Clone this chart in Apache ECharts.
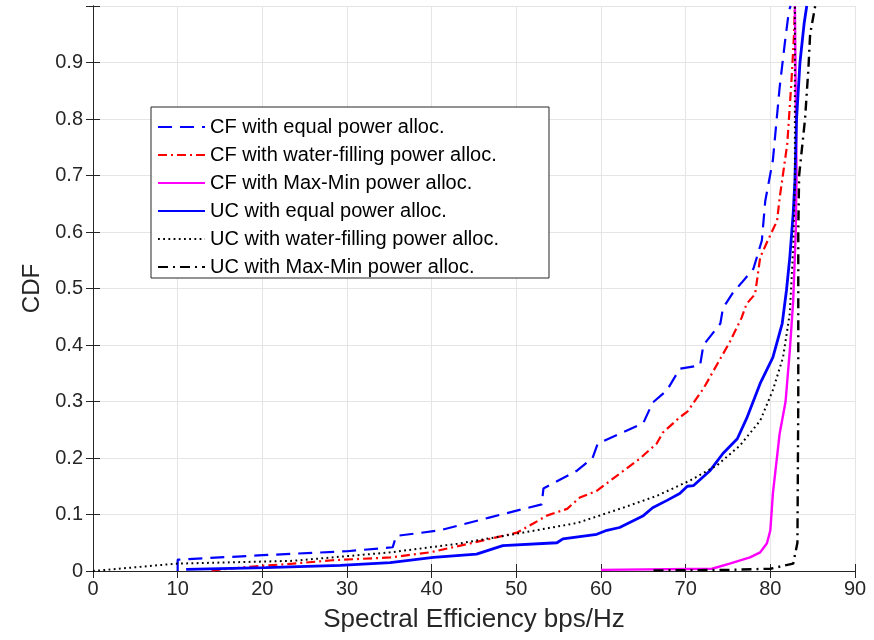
<!DOCTYPE html>
<html>
<head>
<meta charset="utf-8">
<script src="https://cdn.jsdelivr.net/npm/echarts@6/dist/echarts.min.js"></script>
<style>
  html, body { margin: 0; padding: 0; background: #fff; }
  #chart { width: 874px; height: 640px; }
</style>
</head>
<body>
<div id="chart"></div>
<script>
// Empirical CDFs of per-scheme spectral efficiency: [bps/Hz, CDF]
const cfEqual = [
  [10, 0], [10, 0.02], [20, 0.028], [30, 0.035], [35.4, 0.042], [35.8, 0.062],
  [41, 0.072], [46.9, 0.095], [53, 0.118], [53.2, 0.146], [57.2, 0.178], [59, 0.2],
  [59.6, 0.225], [65, 0.262], [66.1, 0.298], [67.8, 0.32], [69.3, 0.358],
  [71.7, 0.364], [72.1, 0.4], [74.1, 0.438], [74.4, 0.465], [75.6, 0.493],
  [76.6, 0.51], [78.0, 0.535], [79.0, 0.585], [79.4, 0.655], [80.3, 0.727],
  [81.1, 0.856], [81.7, 0.933], [82.2, 0.992], [82.4, 1]
];
const cfWaterFill = [
  [14, 0.001], [18.9, 0.008], [23.6, 0.013], [28.3, 0.019], [35.1, 0.024],
  [39.8, 0.033], [44.9, 0.05], [50.1, 0.068], [52, 0.084], [53.6, 0.098],
  [56, 0.11], [57.5, 0.13], [59.5, 0.142], [61.9, 0.169], [64.6, 0.199],
  [66.6, 0.226], [67.3, 0.245], [69.3, 0.272], [70.2, 0.282], [72.1, 0.323],
  [75.2, 0.405], [76.6, 0.448], [77.2, 0.473], [78.2, 0.49], [78.8, 0.555],
  [79.7, 0.585], [80.8, 0.62], [81.1, 0.66], [82, 0.756], [82.5, 0.868],
  [82.8, 0.95], [82.9, 1]
];
const cfMaxMin = [
  [60, 0.002], [73.1, 0.004], [75.2, 0.013], [77.6, 0.024], [78.8, 0.033],
  [79.6, 0.049], [80, 0.072], [80.3, 0.137], [81.1, 0.243], [81.8, 0.3],
  [82.3, 0.39], [82.7, 0.478], [83.0, 0.6], [83.1, 0.7], [83.0, 0.85], [82.9, 1]
];
const ucEqual = [
  [11, 0.003], [20.4, 0.006], [29.2, 0.01], [35.1, 0.015], [40.2, 0.024],
  [45.3, 0.03], [48.4, 0.045], [54.8, 0.05], [55.5, 0.057], [59.5, 0.065],
  [60.7, 0.072], [62.2, 0.077], [65, 0.098], [66.1, 0.112], [67.8, 0.125],
  [69.3, 0.137], [70.2, 0.15], [70.9, 0.151], [72.9, 0.178], [74.4, 0.208],
  [76.1, 0.234], [77.2, 0.27], [78.8, 0.332], [80.3, 0.378], [81.4, 0.438],
  [81.9, 0.496], [82.3, 0.555], [82.7, 0.633], [82.9, 0.69], [83.1, 0.8],
  [83.5, 0.9], [84.0, 0.97], [84.3, 1]
];
const ucWaterFill = [
  [0, 0], [9.8, 0.013], [23.6, 0.018], [35.1, 0.033], [43, 0.048],
  [50.8, 0.068], [57.2, 0.085], [62.6, 0.112], [66.6, 0.133], [70.5, 0.16],
  [73.7, 0.187], [76.4, 0.222], [78.8, 0.266], [80.3, 0.32], [81.5, 0.378],
  [82.3, 0.456], [82.7, 0.573], [82.9, 0.69], [82.9, 1]
];
const ucMaxMin = [
  [66.2, 0.001], [75, 0.002], [80, 0.004], [82.7, 0.013], [83.2, 0.05],
  [83.3, 0.3], [83.3, 0.6], [83.4, 0.7], [84.1, 0.8], [84.5, 0.89],
  [84.7, 0.95], [85.3, 1]
];

const seriesNames = [
  'CF with equal power alloc.',
  'CF with water-filling power alloc.',
  'CF with Max-Min power alloc.',
  'UC with equal power alloc.',
  'UC with water-filling power alloc.',
  'UC with Max-Min power alloc.'
];
const xTicks = [0, 10, 20, 30, 40, 50, 60, 70, 80, 90];

const ink = '#262626';
const font = 'Liberation Sans, Arial, Helvetica, sans-serif';

function curve(name, data, color, width, dash) {
  return {
    name, type: 'line', data, showSymbol: false, symbol: 'none',
    animation: false, silent: true,
    lineStyle: { color, width, type: dash, cap: 'butt' },
    itemStyle: { color }
  };
}

const chart = echarts.init(document.getElementById('chart'), null, { renderer: 'canvas' });

// Box outline: top and right axes carry only inward ticks
const sideAxis = {
  axisLine: { show: true, lineStyle: { color: ink, width: 1 } },
  axisTick: { show: true, inside: true, length: 7, lineStyle: { color: ink } },
  axisLabel: { show: false },
  splitLine: { show: false }
};

chart.setOption({
  backgroundColor: '#fff',
  animation: false,
  grid: { left: 93, right: 19, top: 6, bottom: 69, containLabel: false },
  legend: {
    orient: 'vertical',
    left: 151, top: 107,
    data: seriesNames,
    backgroundColor: '#fff',
    borderColor: ink, borderWidth: 1,
    padding: [10, 50, 1, 6],
    itemWidth: 47, itemHeight: 17, itemGap: 8,
    itemStyle: { opacity: 0, color: 'rgba(0,0,0,0)', borderWidth: 0 },
    textStyle: { fontFamily: font, fontSize: 20, color: '#000' },
    selectedMode: false
  },
  xAxis: [{
    type: 'value', min: 0, max: 90, interval: 10,
    name: 'Spectral Efficiency bps/Hz', nameLocation: 'middle', nameGap: 36,
    nameTextStyle: { fontFamily: font, fontSize: 26, color: ink },
    axisLine: { show: true, onZero: false, lineStyle: { color: ink, width: 1 } },
    axisTick: { show: true, inside: true, length: 7, lineStyle: { color: ink } },
    axisLabel: { fontFamily: font, fontSize: 20, color: ink, margin: 8,
      formatter: v => (xTicks.includes(v) ? String(v) : '') },
    splitLine: { show: true, lineStyle: { color: '#e5e5e5', width: 1 } }
  }, Object.assign({ type: 'value', position: 'top', min: 0, max: 90, interval: 10 }, sideAxis)],
  yAxis: [{
    type: 'value', min: 0, max: 1, interval: 0.1,
    name: 'CDF', nameLocation: 'middle', nameGap: 48,
    nameTextStyle: { fontFamily: font, fontSize: 24, color: ink },
    axisLine: { show: true, onZero: false, lineStyle: { color: ink, width: 1 } },
    axisTick: { show: true, inside: true, length: 7, lineStyle: { color: ink } },
    axisLabel: { fontFamily: font, fontSize: 20, color: ink, margin: 10,
      formatter: v => (v >= 0.999 ? '' : String(+v.toFixed(1))) },
    splitLine: { show: true, lineStyle: { color: '#e5e5e5', width: 1 } }
  }, Object.assign({ type: 'value', position: 'right', min: 0, max: 1, interval: 0.1 }, sideAxis)],
  series: [
    curve(seriesNames[0], cfEqual, '#0000ff', 2.2, [14, 8]),
    curve(seriesNames[1], cfWaterFill, '#ff0000', 2.2, [9, 4, 2, 4]),
    curve(seriesNames[2], cfMaxMin, '#ff00ff', 2.4, 'solid'),
    curve(seriesNames[3], ucEqual, '#0000ff', 2.8, 'solid'),
    curve(seriesNames[4], ucWaterFill, '#000000', 2, [1.8, 3.4]),
    curve(seriesNames[5], ucMaxMin, '#000000', 2.4, [10, 5, 2, 5])
  ]
});
</script>
</body>
</html>
